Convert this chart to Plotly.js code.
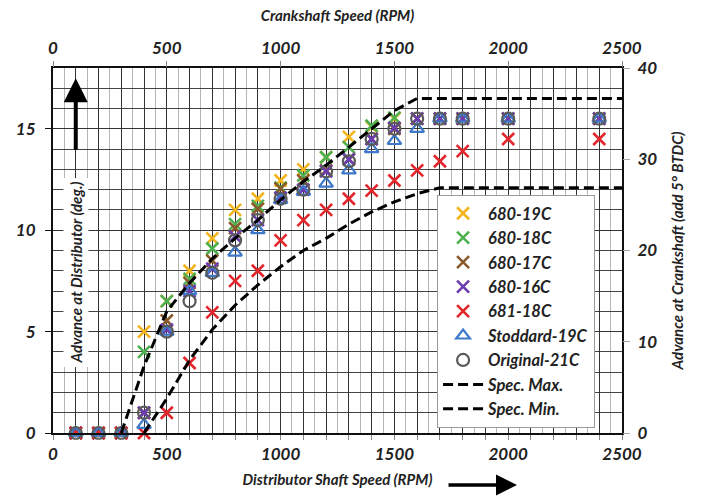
<!DOCTYPE html>
<html>
<head>
<meta charset="utf-8">
<script src="https://cdn.plot.ly/plotly-3.0.1.min.js"></script>
<style>html,body{margin:0;padding:0;background:#fff;}#chart{width:701px;height:497px;}</style>
</head>
<body>
<div id="chart"></div>
<script>
// Distributor shaft speed (RPM) at which each distributor was measured
const rpm = [100, 200, 300, 400, 500, 600, 700, 800, 900, 1000, 1100, 1200, 1300, 1400, 1500, 1600, 1700, 1800, 2000, 2400];
// Advance at distributor (deg.)
const s680_19C = [0, 0, 0, 5.0, 6.5, 8.0, 9.6, 11.0, 11.55, 12.45, 13.0, 13.6, 14.6, 15.1, 15.5, 15.5, 15.5, 15.5, 15.5, 15.5];
const s680_18C = [0, 0, 0, 4.0, 6.5, 7.6, 9.1, 10.3, 11.2, 12.1, 12.7, 13.6, 14.1, 15.15, 15.55, 15.5, 15.5, 15.5, 15.5, 15.5];
const s680_17C = [0, 0, 0, 1.0, 5.55, 7.4, 8.5, 10.1, 11.05, 12.05, 12.45, 12.95, 13.5, 14.5, 15.0, 15.5, 15.5, 15.5, 15.5, 15.5];
const s680_16C = [0, 0, 0, 1.0, 5.1, 7.0, 8.1, 9.7, 10.5, 11.6, 12.0, 12.9, 13.5, 14.5, 15.05, 15.5, 15.5, 15.5, 15.5, 15.5];
const s681_18C = [0, 0, 0, 0, 1.0, 3.45, 5.95, 7.5, 8.0, 9.5, 10.5, 11.0, 11.55, 11.95, 12.45, 12.95, 13.4, 13.9, 14.5, 14.5];
const stoddard19C = [0, 0, 0, 0.4, 5.0, 7.0, 7.9, 8.9, 10.0, 11.5, 11.9, 12.3, 12.95, 14.0, 14.4, 15.0, 15.5, 15.5, 15.5, 15.5];
const original21C = [0, 0, 0, 1.0, 5.0, 6.5, 7.9, 9.5, 10.5, 11.55, 12.0, 12.9, 13.4, 14.5, 15.0, 15.5, 15.5, 15.5, 15.5, 15.5];
// Specification envelope
const specMaxRpm = [300, 400, 500, 600, 700, 800, 900, 1000, 1100, 1200, 1300, 1400, 1500, 1600, 2500];
const specMax = [0, 3.3, 6.0, 7.4, 8.6, 9.6, 10.5, 11.5, 12.4, 13.2, 14.1, 15.0, 15.9, 16.5, 16.5];
const specMinRpm = [400, 500, 600, 700, 800, 900, 1000, 1100, 1200, 1300, 1400, 1500, 1600, 1700, 2500];
const specMin = [0, 1.7, 3.6, 5.1, 6.3, 7.3, 8.2, 9.0, 9.6, 10.3, 10.9, 11.4, 11.8, 12.1, 12.1];
// Axis tick labels
const bottomTickStep = 100;
const labelStep = 500;
const topTicks = [0, 500, 1000, 1500, 2000, 2500];
const leftTicks = [0, 5, 10, 15];
const rightTicks = [0, 10, 20, 30, 40];

const FONT = 'Lato, "Open Sans", sans-serif';
const txt = (size, color) => ({family: FONT, size: size, color: color || '#222', weight: 'bold', style: 'italic'});

function xSeries(name, y, color) {
  return {
    type: 'scatter', mode: 'markers', name: name, x: rpm, y: y, legendgroup: name,
    cliponaxis: false,
    marker: {symbol: 'x-thin-open', size: 12, color: color, line: {color: color, width: 2.6}}
  };
}

const traces = [
  xSeries('680-19C', s680_19C, '#F2B51D'),
  xSeries('680-18C', s680_18C, '#4FB04F'),
  xSeries('680-17C', s680_17C, '#8B5A2B'),
  xSeries('680-16C', s680_16C, '#6B3DB0'),
  xSeries('681-18C', s681_18C, '#E3262B'),
  {type: 'scatter', mode: 'markers', name: 'Stoddard-19C', x: rpm, y: stoddard19C, legendgroup: 'st', cliponaxis: false,
   marker: {symbol: 'triangle-up-open', size: 12, color: '#3D78C9', line: {color: '#3D78C9', width: 2.2}}},
  {type: 'scatter', mode: 'markers', name: 'Original-21C', x: rpm, y: original21C, legendgroup: 'or', cliponaxis: false,
   marker: {symbol: 'circle-open', size: 12, color: '#5A5A5A', line: {color: '#5A5A5A', width: 2.2}}},
  {type: 'scatter', mode: 'lines', name: 'Spec. Max.', x: specMaxRpm, y: specMax, legendgroup: 'mx',
   line: {color: '#000', width: 3, dash: '10px,5px'}},
  {type: 'scatter', mode: 'lines', name: 'Spec. Min.', x: specMinRpm, y: specMin, legendgroup: 'mn',
   line: {color: '#000', width: 3, dash: '10px,5px'}},
  {type: 'scatter', mode: 'markers', x: [], y: [], xaxis: 'x2', yaxis: 'y2', showlegend: false, hoverinfo: 'skip'}
];

const bottomVals = [], bottomText = [];
for (let v = 0; v <= 2500; v += bottomTickStep) { bottomVals.push(v); bottomText.push(v % labelStep === 0 ? String(v) : ''); }

const layout = {
  width: 701, height: 497,
  margin: {l: 53, r: 79, t: 68, b: 64},
  paper_bgcolor: '#fff', plot_bgcolor: '#fff',
  showlegend: true,
  legend: {
    x: 0.675, y: 0.652, xanchor: 'left', yanchor: 'top',
    bgcolor: '#fff', bordercolor: '#9a9a9a', borderwidth: 1,
    font: txt(16.5), traceorder: 'grouped', tracegroupgap: 0, itemwidth: 40
  },
  xaxis: {
    range: [0, 2500], tickmode: 'array', tickvals: bottomVals, ticktext: bottomText,
    ticks: 'outside', ticklen: 5, tickcolor: '#888', tickfont: txt(17),
    showgrid: true, gridcolor: '#333', gridwidth: 1,
    minor: {dtick: 50, tick0: 0, showgrid: true, gridcolor: '#b5b5b5', gridwidth: 1, ticks: ''},
    showline: true, linecolor: '#111', linewidth: 2, mirror: true, zeroline: false,
    title: {text: 'Distributor Shaft Speed (RPM)', font: txt(15), standoff: 11},
    automargin: false
  },
  xaxis2: {
    overlaying: 'x', side: 'top', range: [0, 2500], tickmode: 'array', tickvals: topTicks,
    ticks: 'outside', ticklen: 6, tickcolor: '#888', tickfont: txt(17),
    showgrid: false, zeroline: false, showline: false,
    title: {text: 'Crankshaft Speed (RPM)', font: txt(15), standoff: 11},
    automargin: false
  },
  yaxis: {
    range: [0, 18], tickmode: 'array', tickvals: leftTicks,
    ticks: 'outside', ticklen: 6, tickcolor: '#111', tickfont: txt(17), ticklabelstandoff: 6,
    showgrid: true, gridcolor: '#333', gridwidth: 1.2,
    minor: {dtick: 1, tick0: 0, showgrid: true, gridcolor: '#444', gridwidth: 1, ticks: ''},
    showline: true, linecolor: '#111', linewidth: 2, mirror: true, zeroline: false,
    automargin: false
  },
  yaxis2: {
    overlaying: 'y', side: 'right', range: [0, 40], tickmode: 'array', tickvals: rightTicks,
    ticks: 'outside', ticklen: 7, tickcolor: '#aaa', tickfont: txt(17), ticklabelstandoff: 4,
    showgrid: false, zeroline: false, showline: false,
    title: {text: 'Advance at Crankshaft (add 5° BTDC)', font: txt(15), standoff: 16},
    automargin: false
  },
  annotations: [
    {xref: 'x', yref: 'y', x: 100, y: 7.9, text: 'Advance at Distributor (deg.)', textangle: -90,
     showarrow: false, font: txt(15), bgcolor: '#fff', borderpad: 3},
    {xref: 'x', yref: 'y', x: 100, y: 17.5, ax: 0, ay: 73, axref: 'pixel', ayref: 'pixel', text: '',
     showarrow: true, arrowhead: 2, arrowsize: 1.2, arrowwidth: 4, arrowcolor: '#000'},
    {xref: 'paper', yref: 'paper', x: 0.8155, y: -0.1425, ax: -70, ay: 0, text: '',
     showarrow: true, arrowhead: 2, arrowsize: 1.2, arrowwidth: 3.5, arrowcolor: '#000'}
  ]
};

Plotly.newPlot('chart', traces, layout, {displayModeBar: false, staticPlot: true});
</script>
</body>
</html>
